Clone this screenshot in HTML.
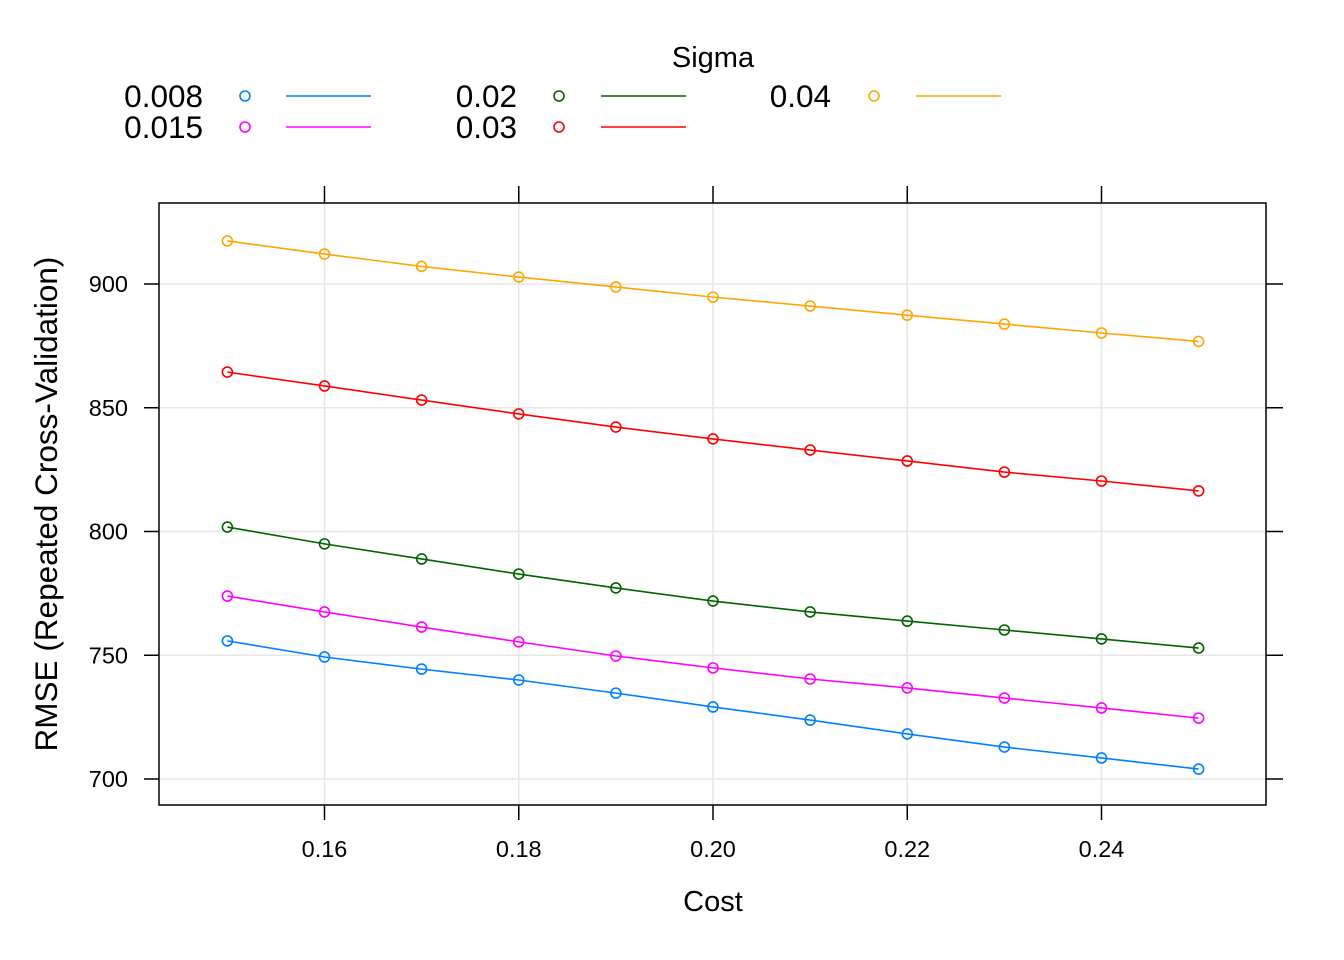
<!DOCTYPE html>
<html><head><meta charset="utf-8"><style>
html,body{margin:0;padding:0;background:#fff;}
svg{display:block;font-family:"Liberation Sans",Arial,sans-serif;}
</style></head><body>
<svg id="chart" width="1344" height="960" viewBox="0 0 1344 960"></svg>
<script>
const costs=[0.15,0.16,0.17,0.18,0.19,0.20,0.21,0.22,0.23,0.24,0.25];
const sigmaLabels=["0.008","0.015","0.02","0.03","0.04"];
const colors=["#0080ff","#ff00ff","#006400","#ff0000","#ffa500"];
const s008=[755.8,749.3,744.4,740.0,734.7,729.1,723.8,718.2,712.9,708.5,704.0];
const s015=[773.9,767.5,761.4,755.4,749.7,744.9,740.4,736.8,732.7,728.7,724.6];
const s02=[801.8,795.0,788.9,782.8,777.2,771.9,767.5,763.8,760.2,756.6,752.9];
const s03=[864.4,858.8,853.1,847.5,842.2,837.4,832.9,828.5,824.0,820.4,816.4];
const s04=[917.4,912.1,907.1,902.8,898.8,894.7,891.1,887.4,883.8,880.2,876.8];
const seriesList=[s008,s015,s02,s03,s04];
const xTicks=[0.16,0.18,0.20,0.22,0.24];
const xTickLabels=["0.16","0.18","0.20","0.22","0.24"];
const yTicks=[700,750,800,850,900];
const yTickLabels=["700","750","800","850","900"];

const NS="http://www.w3.org/2000/svg";
const svg=document.getElementById("chart");
const X=c=>713+(c-0.20)*9712.5;
const Y=v=>779-(v-700)*2.475;
const L=159,R=1266,T=203,B=805;
function el(tag,attrs,parent){const e=document.createElementNS(NS,tag);for(const k in attrs)e.setAttribute(k,attrs[k]);(parent||svg).appendChild(e);return e;}

xTicks.forEach(t=>{const g=el("line",{x1:X(t),x2:X(t),y1:T,y2:B,stroke:"#e6e6e6","stroke-width":1.5});

});
yTicks.forEach(t=>{const g=el("line",{x1:L,x2:R,y1:Y(t),y2:Y(t),stroke:"#e6e6e6","stroke-width":1.5});

});

seriesList.forEach((s,i)=>{
  const pts=s.map((v,j)=>X(costs[j])+","+Y(v)).join(" ");
  const pl=el("polyline",{points:pts,fill:"none",stroke:colors[i],"stroke-width":1.6});
  
  
  s.forEach((v,j)=>{const c=el("circle",{cx:X(costs[j]),cy:Y(v),r:5,fill:"none",stroke:colors[i],"stroke-width":1.6});
  
  });
});

const fr=el("rect",{x:L,y:T,width:R-L,height:B-T,fill:"none",stroke:"#000","stroke-width":1.5});



xTicks.forEach((t,i)=>{
  const a=el("line",{x1:X(t),x2:X(t),y1:T-17,y2:T,stroke:"#000","stroke-width":1.5});
  
  
  const b=el("line",{x1:X(t),x2:X(t),y1:B,y2:B+15,stroke:"#000","stroke-width":1.5});
  
  
  const tx=el("text",{x:X(t),y:857,"text-anchor":"middle","font-size":"23.5px",fill:"#000"});
  tx.textContent=xTickLabels[i];
  
  
});
yTicks.forEach((t,i)=>{
  const a=el("line",{x1:L-15,x2:L,y1:Y(t),y2:Y(t),stroke:"#000","stroke-width":1.5});
  
  
  const b=el("line",{x1:R,x2:R+17,y1:Y(t),y2:Y(t),stroke:"#000","stroke-width":1.5});
  
  
  const tx=el("text",{x:128,y:Y(t)+8,"text-anchor":"end","font-size":"23.5px",fill:"#000"});
  tx.textContent=yTickLabels[i];
  
  
});

const xt=el("text",{x:713,y:911,"text-anchor":"middle","font-size":"29px",fill:"#000"});
xt.textContent="Cost";


const yt=el("text",{x:0,y:0,"text-anchor":"middle","font-size":"31.5px",fill:"#000",transform:"translate(57,504) rotate(-90)"});
yt.textContent="RMSE (Repeated Cross-Validation)";



const lt=el("text",{x:713,y:67,"text-anchor":"middle","font-size":"29px",fill:"#000"});
lt.textContent="Sigma";


const cols=[[203,245,286],[517,559,601],[831,874,916]];
sigmaLabels.forEach((lab,i)=>{
  const c=cols[Math.floor(i/2)], yy=i%2===0?96:127;
  const g=el("g",{});
  
  
  const t=el("text",{x:c[0],y:yy+11,"text-anchor":"end","font-size":"31.5px",fill:"#000"},g);
  t.textContent=lab;
  el("circle",{cx:c[1],cy:yy,r:5,fill:"none",stroke:colors[i],"stroke-width":1.6},g);
  el("line",{x1:c[2],x2:c[2]+85,y1:yy,y2:yy,stroke:colors[i],"stroke-width":1.6},g);
});
</script>
</body></html>
